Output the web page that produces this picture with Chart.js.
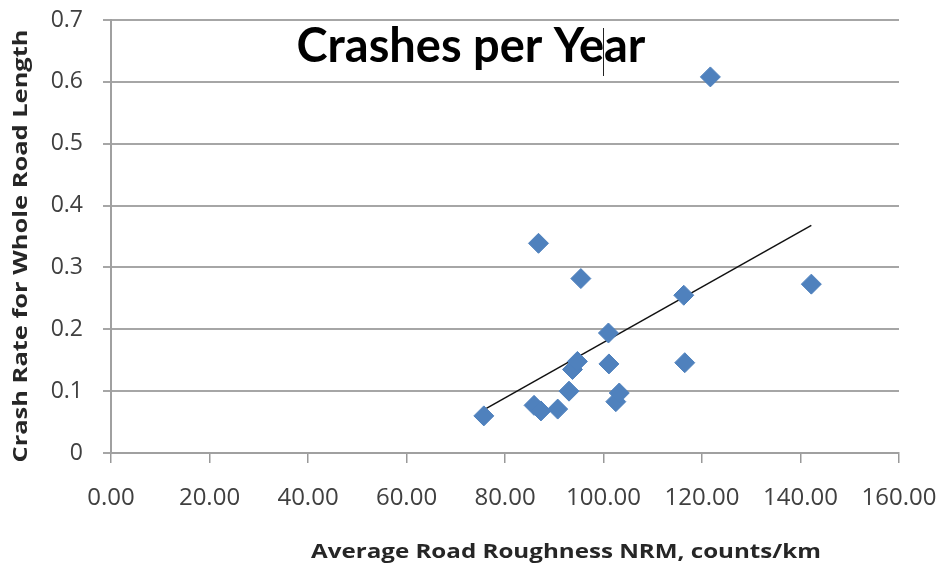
<!DOCTYPE html>
<html>
<head>
<meta charset="utf-8">
<script src="https://cdn.jsdelivr.net/npm/chart.js@4"></script>
<style>
  html, body { margin: 0; padding: 0; background: #fff; }
  #wrap { width: 941px; height: 573px; }
</style>
</head>
<body>
<div id="wrap"><canvas id="crashChart"></canvas></div>
<script>
// roughness (NRM counts/km) and crash rate
const roughness = [75.7, 85.9, 86.8, 87.3, 90.7, 93.0, 93.7, 94.7, 95.4, 101.0, 101.1, 102.5, 103.2, 116.3, 116.5, 121.7, 142.2];
const crashRate = [0.060, 0.077, 0.339, 0.068, 0.071, 0.100, 0.135, 0.148, 0.282, 0.194, 0.144, 0.083, 0.097, 0.255, 0.146, 0.608, 0.273];
const trendX = [75.5, 142.2];
const trendY = [0.069, 0.368];
const xTicks = [0, 20, 40, 60, 80, 100, 120, 140, 160];
const yTicks = [0, 0.1, 0.2, 0.3, 0.4, 0.5, 0.6, 0.7];

const chartTitle = 'Crashes per Year';
const xTitle = 'Average Road Roughness NRM, counts/km';
const yTitle = 'Crash Rate for Whole Road Length';

const points = roughness.map((r, i) => ({ x: r, y: crashRate[i] }));
const trend = trendX.map((t, i) => ({ x: t, y: trendY[i] }));

// draws text stretched to a given width (the original is a bit wide)
function stretchText(ctx, text, x, y, width, angle) {
    const w = ctx.measureText(text).width;
    ctx.save();
    ctx.translate(x, y);
    ctx.rotate(angle);
    ctx.scale(width / w, 1);
    ctx.fillText(text, 0, 0);
    ctx.restore();
}

const textLayer = {
    id: 'textLayer',
    afterDraw(chart) {
        const ctx = chart.ctx;
        ctx.save();
        // title sits inside the plot
        ctx.font = 'bold 47px Lato, "Open Sans", sans-serif';
        ctx.fillStyle = '#000';
        ctx.textAlign = 'center';
        ctx.textBaseline = 'alphabetic';
        ctx.fillText(chartTitle, 471, 62);
        // text cursor left in the title
        ctx.strokeStyle = '#222';
        ctx.lineWidth = 1;
        ctx.beginPath();
        ctx.moveTo(603.5, 28);
        ctx.lineTo(603.5, 76);
        ctx.stroke();

        ctx.font = 'bold 20px "Open Sans", sans-serif';
        ctx.fillStyle = '#262626';
        stretchText(ctx, xTitle, 566, 558, 510, 0);
        stretchText(ctx, yTitle, 27, 246, 433, -Math.PI / 2);
        ctx.restore();
    }
};

const config = {
    type: 'scatter',
    data: {
        datasets: [
            {
                label: 'Crash rate',
                data: points,
                pointStyle: 'rectRot',
                pointRadius: 10,
                pointHoverRadius: 10,
                backgroundColor: '#4f81bd',
                borderColor: '#4f81bd',
                borderWidth: 1
            },
            {
                type: 'line',
                label: 'Trend',
                data: trend,
                borderColor: '#111',
                borderWidth: 1.5,
                pointRadius: 0,
                fill: false
            }
        ]
    },
    options: {
        responsive: true,
        maintainAspectRatio: false,
        animation: false,
        layout: { padding: { top: 20, right: 42, left: 0, bottom: 0 } },
        plugins: {
            legend: { display: false },
            tooltip: { enabled: false },
            title: { display: false }
        },
        scales: {
            x: {
                type: 'linear',
                min: 0,
                max: 160,
                afterBuildTicks: s => { s.ticks = xTicks.map(v => ({ value: v })); },
                afterFit: s => { s.height = 120; s.paddingLeft = 0; s.paddingRight = 0; },
                grid: { drawOnChartArea: false, drawTicks: true, tickLength: 10, color: '#999', lineWidth: 1.5 },
                border: { color: '#a0a0a0', width: 2 },
                ticks: {
                    color: '#404040',
                    font: { family: '"Open Sans", sans-serif', size: 24 },
                    padding: 21,
                    maxRotation: 0,
                    callback: v => v.toFixed(2)
                }
            },
            y: {
                min: 0,
                max: 0.7,
                afterBuildTicks: s => { s.ticks = yTicks.map(v => ({ value: v })); },
                afterFit: s => { s.width = 111; s.paddingTop = 0; s.paddingBottom = 0; },
                grid: { color: '#a6a6a6', lineWidth: 2, tickLength: 8 },
                border: { color: '#a0a0a0', width: 2 },
                ticks: {
                    color: '#404040',
                    font: { family: '"Open Sans", sans-serif', size: 23 },
                    padding: 20,
                    callback: v => String(Math.round(v * 10) / 10)
                }
            }
        }
    },
    plugins: [textLayer]
};

const canvas = document.getElementById('crashChart');
const crashChart = new Chart(canvas, config);
</script>
</body>
</html>
